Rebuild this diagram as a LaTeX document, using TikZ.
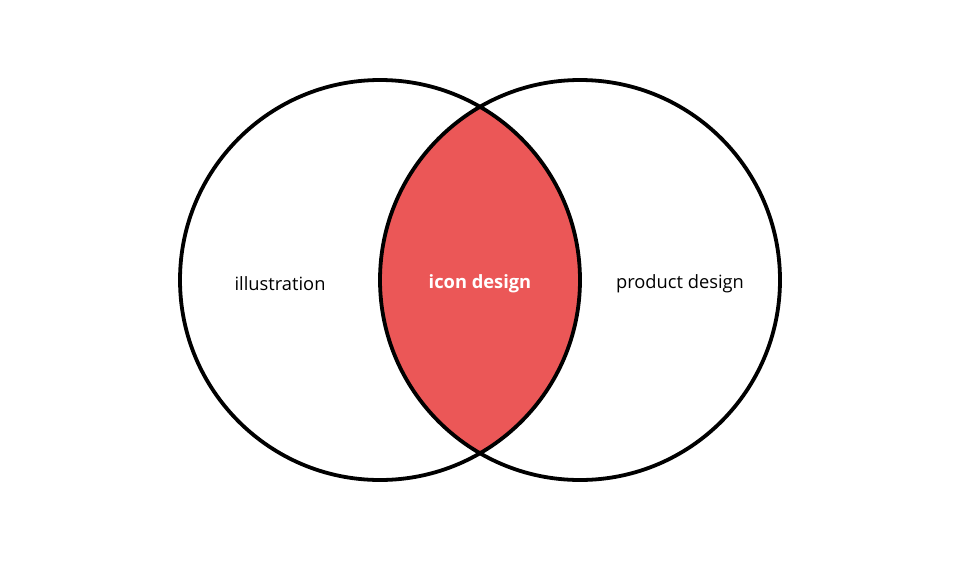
\documentclass[tikz,border=0pt]{standalone}
\usepackage{fontspec}
\setmainfont{Open Sans}
\definecolor{venn}{HTML}{EB5757}
\begin{document}
\begin{tikzpicture}[x=1pt,y=-1pt,
  ring/.style={draw=black,line width=3.8pt},
  lbl/.style={font=\fontsize{18.3}{20}\selectfont,inner sep=0pt}]
\useasboundingbox (0,0) rectangle (960,560);
\begin{scope}
  \clip (380,280) circle (200);
  \fill[venn] (580,280) circle (200);
\end{scope}
\node[ring,circle,minimum size=400pt,inner sep=0pt] (L) at (380,280) {};
\node[ring,circle,minimum size=400pt,inner sep=0pt] (R) at (580,280) {};
\node[lbl] (a) at (280,284) {illustration};
\node[lbl,text=white,font=\fontsize{18.3}{20}\selectfont\bfseries] (b) at (480,284) {icon design};
\node[lbl] (c) at (680,284) {product design};
\end{tikzpicture}
\end{document}
